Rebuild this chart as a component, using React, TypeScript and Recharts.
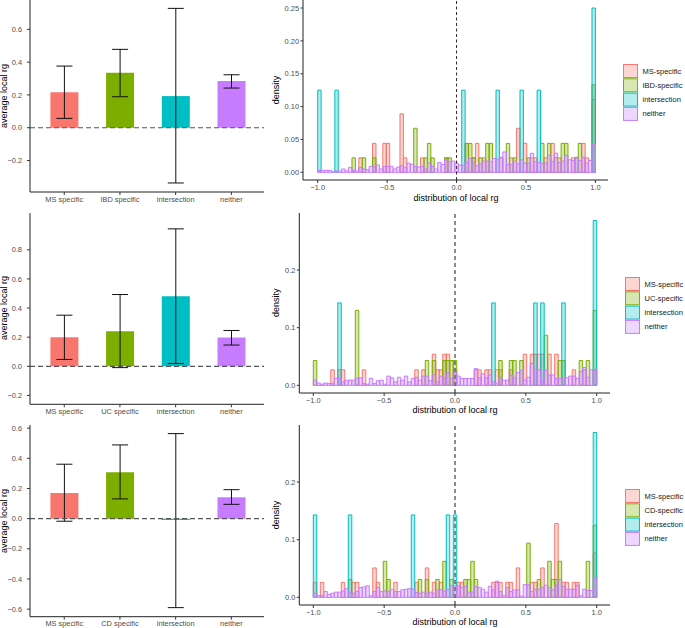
import React from 'react';
import { BarChart, Bar, XAxis, YAxis, ErrorBar, ReferenceLine, Legend, Cell } from 'recharts';

const COLORS = ['#F8766D', '#7CAE00', '#00BFC4', '#C77CFF'];
const FONT = '"Liberation Sans", Arial, Helvetica, sans-serif';

// ---------- Left panels: average local rg with CI ----------
const cats1 = ['MS specific', 'IBD specific', 'intersection', 'neither'];
const mean1 = [0.216, 0.335, 0.193, 0.285];
const low1 = [0.057, 0.189, -0.337, 0.242];
const high1 = [0.376, 0.478, 0.728, 0.323];

const cats2 = ['MS specific', 'UC specific', 'intersection', 'neither'];
const mean2 = [0.199, 0.241, 0.482, 0.197];
const low2 = [0.047, -0.009, 0.019, 0.146];
const high2 = [0.351, 0.493, 0.944, 0.246];

const cats3 = ['MS specific', 'CD specific', 'intersection', 'neither'];
const mean3 = [0.170, 0.308, -0.009, 0.142];
const low3 = [-0.017, 0.131, -0.590, 0.095];
const high3 = [0.361, 0.489, 0.564, 0.192];

const yTicksL1 = [-0.2, 0, 0.2, 0.4, 0.6];
const yTicksL2 = [-0.2, 0, 0.2, 0.4, 0.6, 0.8];
const yTicksL3 = [-0.6, -0.4, -0.2, 0, 0.2, 0.4, 0.6];

// ---------- Right panels: histograms (81 bins over [-1, 1]) ----------
const N_BINS = 81;
const binCenters = Array.from({ length: N_BINS }, (_, i) => -1 + (2 / N_BINS) * (i + 0.5));
const xTicksR = [-1, -0.5, 0, 0.5, 1];

const legend1 = ['MS-specific', 'IBD-specific', 'intersection', 'neither'];
const legend2 = ['MS-specific', 'UC-specific', 'intersection', 'neither'];
const legend3 = ['MS-specific', 'CD-specific', 'intersection', 'neither'];

// sparse series: [bin index, density]
const ms1 = [[12,.022],[16,.044],[19,.044],[20,.044],[24,.089],[25,.022],[30,.022],[37,.022],[43,.044],[45,.022],[46,.044],[48,.022],[53,.022],[56,.022],[58,.067],[60,.044],[62,.022],[63,.022],[66,.022],[68,.044],[70,.022],[74,.022],[77,.044],[78,.022],[80,.111]];
const ibd1 = [[10,.022],[13,.022],[16,.022],[28,.067],[31,.022],[32,.044],[33,.022],[37,.022],[38,.022],[43,.044],[44,.044],[45,.022],[47,.022],[49,.044],[50,.044],[55,.044],[57,.022],[61,.022],[65,.044],[67,.044],[69,.022],[71,.044],[72,.044],[75,.022],[76,.044],[80,.133]];
const inter1 = [[0,.125],[5,.125],[42,.125],[52,.125],[59,.125],[64,.125],[80,.25]];
const neither1 = [0.003,0.003,0.003,0.003,0.001,0.002,0.002,0.005,0.002,0.0075,
0.003,0.002,0.0075,0.005,0.004,0.009,0.008,0.011,0.005,0.009,
0.009,0.009,0.005,0.008,0.010,0.007,0.014,0.012,0.009,0.008,
0.009,0.005,0.014,0.009,0.005,0.015,0.012,0.019,0.016,0.017,
0.014,
0.011,0.011,0.015,0.021,0.014,0.010,0.013,0.017,0.017,0.016,
0.021,0.020,0.023,0.031,0.012,0.012,0.017,0.013,0.019,0.014,
0.014,0.029,0.016,0.015,0.014,0.014,0.026,0.016,0.029,0.015,
0.017,0.026,0.019,0.018,0.023,0.018,0.023,0.014,0.018,0.042];

const ms2 = [[5,.027],[7,.027],[8,.027],[14,.027],[29,.027],[31,.027],[34,.054],[35,.027],[36,.027],[37,.054],[38,.054],[40,.027],[46,.027],[47,.027],[49,.027],[50,.027],[52,.027],[53,.027],[56,.027],[60,.054],[62,.054],[63,.054],[64,.054],[65,.054],[67,.054],[69,.054],[74,.027],[77,.027],[80,.027]];
const uc2 = [[0,.043],[12,.13],[32,.043],[34,.043],[37,.043],[38,.043],[39,.043],[40,.043],[53,.043],[56,.043],[57,.043],[59,.043],[66,.087],[70,.043],[71,.043],[76,.043],[78,.043],[80,.13]];
const inter2 = [[7,.143],[51,.143],[63,.143],[65,.143],[71,.143],[80,.286]];
const neither2 = [0.009,0.004,0.002,0.004,0.003,0.003,0.012,0.012,0.006,0.009,
0.009,0.009,0.012,0.013,0.003,0.002,0.012,0.003,0.008,0.009,
0.002,0.016,0.013,0.006,0.014,0.009,0.016,0.006,0.012,0.014,
0.009,0.016,0.016,0.008,0.018,0.006,0.016,0.013,0.022,0.012,
0.022,
0.016,0.012,0.012,0.012,0.012,0.029,0.013,0.020,0.013,0.018,
0.006,0.004,0.014,0.009,0.009,0.018,0.013,0.022,0.026,0.009,
0.014,0.038,0.027,0.027,0.008,0.026,0.018,0.018,0.012,0.012,
0.012,0.013,0.016,0.016,0.012,0.024,0.031,0.014,0.027,0.027];

const ms3 = [[0,.026],[2,.026],[8,.026],[11,.026],[12,.026],[17,.051],[18,.026],[23,.026],[29,.026],[32,.051],[34,.026],[36,.026],[41,.026],[42,.026],[51,.026],[52,.026],[53,.026],[55,.026],[56,.026],[58,.051],[62,.026],[63,.026],[65,.051],[69,.128],[71,.026],[72,.026],[74,.026],[75,.026],[80,.077]];
const cd3 = [[10,.031],[20,.0625],[21,.031],[30,.031],[32,.031],[35,.031],[37,.0625],[39,.031],[43,.031],[44,.031],[45,.0625],[46,.031],[61,.094],[64,.031],[67,.0625],[68,.031],[69,.031],[70,.0625],[78,.0625],[80,.125]];
const inter3 = [[0,.143],[10,.143],[28,.143],[38,.143],[40,.143],[80,.286]];
const neither3 = [0.007,0.003,0.003,0.010,0.005,0.007,0.009,0.009,0.011,0.015,
0.008,0.007,0.010,0.017,0.018,0.020,0.003,0.010,0.017,0.010,
0.011,0.010,0.014,0.010,0.010,0.013,0.014,0.015,0.014,0.008,
0.007,0.009,0.007,0.009,0.007,0.013,0.013,0.011,0.014,0.020,
0.020,
0.020,0.017,0.019,0.009,0.009,0.019,0.017,0.014,0.009,0.019,
0.013,0.028,0.010,0.003,0.017,0.010,0.013,0.013,0.002,0.022,
0.022,0.010,0.014,0.014,0.017,0.021,0.017,0.013,0.021,0.031,
0.019,0.014,0.014,0.014,0.021,0.003,0.014,0.012,0.012,0.033];

const yTicksR1 = [0, 0.05, 0.1, 0.15, 0.2, 0.25];
const yTicksR23 = [0, 0.1, 0.2];

// ---------- helpers ----------
const fmt = (d: number) => (v: number) => (v < -1e-9 ? '\u2212' : '') + Math.abs(v).toFixed(d);
const TICK_FILL = '#4D4D4D';
const tickText = { fontSize: 7.4, fill: TICK_FILL, fontFamily: FONT };
const axisLineStyle = { stroke: '#222', strokeWidth: 1 };
const tickLineStyle = { stroke: '#333', strokeWidth: 1 };

const CatTick = (props: any) => (
  <text x={props.x} y={props.y} dy="0.71em" textAnchor="middle" fill={TICK_FILL} fontSize={7.4} fontFamily={FONT}>
    {props.payload.value}
  </text>
);

function sparseLookup(sparse: number[][], i: number) {
  const hit = sparse.find((p) => p[0] === i);
  return hit ? hit[1] : 0;
}

function buildHist(a: number[][], b: number[][], c: number[][], n: number[]) {
  return binCenters.map((x, i) => ({
    bin: x.toFixed(4),
    x,
    zero: 0,
    s0: sparseLookup(a, i),
    s1: sparseLookup(b, i),
    s2: sparseLookup(c, i),
    s3: n[i],
  }));
}

type MeanProps = {
  chartTop: number; plotTop: number; plotBottom: number;
  cats: string[]; mean: number[]; low: number[]; high: number[];
  yDomain: [number, number]; yTicks: number[];
};

function MeanPanel({ chartTop, plotTop, plotBottom, cats, mean, low, high, yDomain, yTicks }: MeanProps) {
  const data = cats.map((c, i) => ({ cat: c, mean: mean[i], err: [mean[i] - low[i], high[i] - mean[i]] }));
  const xAxisH = 20;
  const height = plotBottom - chartTop + xAxisH;
  return (
    <div style={{ position: 'absolute', left: 0, top: chartTop }}>
      <BarChart width={270} height={height} data={data}
        margin={{ top: plotTop - chartTop, right: 6, bottom: 0, left: 0 }}>
        <XAxis dataKey="cat" type="category" height={xAxisH} padding={{ left: 6.4, right: 4.8 }}
          interval={0} tickSize={3} tickMargin={1.4} tick={CatTick} axisLine={axisLineStyle} tickLine={tickLineStyle} />
        <YAxis type="number" domain={yDomain} ticks={yTicks} allowDataOverflow width={30} interval={0}
          tickSize={3} tickMargin={5} tick={tickText} tickFormatter={fmt(1)} axisLine={axisLineStyle} tickLine={tickLineStyle} />
        <Bar dataKey="mean" barSize={28} isAnimationActive={false}>
          {data.map((d, i) => <Cell key={d.cat} fill={COLORS[i]} />)}
          <ErrorBar dataKey="err" width={8} stroke="#111" strokeWidth={1} direction="y" isAnimationActive={false} />
        </Bar>
        <ReferenceLine y={0} stroke="#555" strokeWidth={1.2} strokeDasharray="5 3" />
      </BarChart>
    </div>
  );
}

type HistProps = {
  chartTop: number; plotTop: number; plotBottom: number; plotLeft: number; plotRight: number;
  xLo: number; xHi: number; yDomain: [number, number]; yTicks: number[]; yDigits: number;
  data: any[]; labels: string[]; legendX: number; legendY: number;
  refStroke: string; refWidth: number; refDash: string; xTickMargin: number;
};

function makeLegend(labels: string[]) {
  return () => (
    <svg width={90} height={60} style={{ overflow: 'visible', display: 'block' }}>
      {labels.map((l, i) => (
        <g key={l}>
          <rect x={0.5} y={i * 14.3 + 0.5} width={14} height={13} fill={COLORS[i]} fillOpacity={0.3}
            stroke={COLORS[i]} strokeWidth={1} />
          <text x={19.5} y={i * 14.3 + 9.5} fontSize={7.5} fontFamily={FONT} fill="#1a1a1a">{l}</text>
        </g>
      ))}
    </svg>
  );
}

function HistPanel(p: HistProps) {
  const W = 425;
  const left = 260;
  const pxPerUnit = (p.plotRight - p.plotLeft) / (p.xHi - p.xLo);
  const padL = (-1 - p.xLo) * pxPerUnit;
  const padR = (p.xHi - 1) * pxPerUnit;
  const band = (2 * pxPerUnit) / N_BINS;
  const xAxisH = 30;
  const height = p.plotBottom - p.chartTop + xAxisH;
  const ids = ['a', 'b', 'c', 'd'];
  return (
    <div style={{ position: 'absolute', left, top: p.chartTop }}>
      <BarChart width={W} height={height} data={p.data} barCategoryGap={0} barGap={0}
        margin={{ top: p.plotTop - p.chartTop, right: W - (p.plotRight - left), bottom: 0, left: 0 }}>
        <XAxis xAxisId="num" dataKey="x" type="number" domain={[p.xLo, p.xHi]} ticks={xTicksR} allowDataOverflow
          height={xAxisH} interval={0} tickSize={3} tickMargin={p.xTickMargin} tick={tickText} tickFormatter={fmt(1)}
          axisLine={axisLineStyle} tickLine={tickLineStyle} />
        {ids.map((id) => (
          <XAxis key={id} xAxisId={id} dataKey="bin" type="category" hide height={0} padding={{ left: padL, right: padR }} />
        ))}
        <YAxis type="number" domain={p.yDomain} ticks={p.yTicks} allowDataOverflow width={p.plotLeft - left}
          interval={0} tickSize={2.5} tickMargin={1.5} tick={tickText} tickFormatter={fmt(p.yDigits)}
          axisLine={axisLineStyle} tickLine={tickLineStyle} />
        <Bar xAxisId="num" dataKey="zero" fill="none" isAnimationActive={false} legendType="none" />
        {ids.map((id, i) => (
          <Bar key={id} xAxisId={id} dataKey={'s' + i} barSize={band - 0.01} fill={COLORS[i]} fillOpacity={0.3}
            stroke={COLORS[i]} strokeWidth={1} isAnimationActive={false} />
        ))}
        <ReferenceLine xAxisId="num" x={0} stroke={p.refStroke} strokeWidth={p.refWidth} strokeDasharray={p.refDash} />
        <Legend layout="vertical" align="center" verticalAlign="middle" content={makeLegend(p.labels)}
          wrapperStyle={{ left: p.legendX - left, top: p.legendY - p.chartTop, width: 90, height: 60 }} />
      </BarChart>
    </div>
  );
}

const hist1 = buildHist(ms1, ibd1, inter1, neither1);
const hist2 = buildHist(ms2, uc2, inter2, neither2);
const hist3 = buildHist(ms3, cd3, inter3, neither3);

export default function App() {
  const title = { fontFamily: FONT, fontSize: 9, fill: '#000' } as const;
  return (
    <div style={{ position: 'absolute', left: 0, top: 0, width: 685, height: 628, overflow: 'hidden', background: '#fff' }}>
      <MeanPanel chartTop={0} plotTop={0} plotBottom={192} cats={cats1} mean={mean1} low={low1} high={high1}
        yDomain={[-0.392, 0.779]} yTicks={yTicksL1} />
      <MeanPanel chartTop={204.7} plotTop={212.7} plotBottom={404} cats={cats2} mean={mean2} low={low2} high={high2}
        yDomain={[-0.261, 1.053]} yTicks={yTicksL2} />
      <MeanPanel chartTop={417} plotTop={425} plotBottom={616.7} cats={cats3} mean={mean3} low={low3} high={high3}
        yDomain={[-0.65, 0.621]} yTicks={yTicksL3} />

      <HistPanel chartTop={0} plotTop={0} plotBottom={180} plotLeft={303} plotRight={608}
        xLo={-1.1059} xHi={1.0907} yDomain={[-0.0117, 0.2622]} yTicks={yTicksR1} yDigits={2}
        data={hist1} labels={legend1} legendX={623.3} legendY={64.3}
        refStroke="#111" refWidth={0.9} refDash="3 2.5" xTickMargin={2.2} />
      <HistPanel chartTop={204.7} plotTop={212.7} plotBottom={392.7} plotLeft={299.3} plotRight={610}
        xLo={-1.0988} xHi={1.0939} yDomain={[-0.0133, 0.299]} yTicks={yTicksR23} yDigits={1}
        data={hist2} labels={legend2} legendX={625} legendY={276.7}
        refStroke="#666" refWidth={1.5} refDash="4 3" xTickMargin={1.5} />
      <HistPanel chartTop={417} plotTop={425} plotBottom={605} plotLeft={299.3} plotRight={610}
        xLo={-1.0988} xHi={1.0939} yDomain={[-0.0133, 0.299]} yTicks={yTicksR23} yDigits={1}
        data={hist3} labels={legend3} legendX={625} legendY={489}
        refStroke="#666" refWidth={1.5} refDash="4 3" xTickMargin={1.8} />

      <svg width={685} height={628} style={{ position: 'absolute', left: 0, top: 0, pointerEvents: 'none' }}>
        <text {...title} textAnchor="middle" transform="translate(6.5,96) rotate(-90)">average local rg</text>
        <text {...title} textAnchor="middle" transform="translate(6.5,308) rotate(-90)">average local rg</text>
        <text {...title} textAnchor="middle" transform="translate(6.5,521) rotate(-90)">average local rg</text>
        <text {...title} textAnchor="middle" transform="translate(279,90) rotate(-90)">density</text>
        <text {...title} textAnchor="middle" transform="translate(279.4,302.7) rotate(-90)">density</text>
        <text {...title} textAnchor="middle" transform="translate(279.4,515) rotate(-90)">density</text>
        <text {...title} textAnchor="middle" x={456} y={200.6}>distribution of local rg</text>
        <text {...title} textAnchor="middle" x={455} y={412.8}>distribution of local rg</text>
        <text {...title} textAnchor="middle" x={455} y={624.8}>distribution of local rg</text>
      </svg>
    </div>
  );
}
